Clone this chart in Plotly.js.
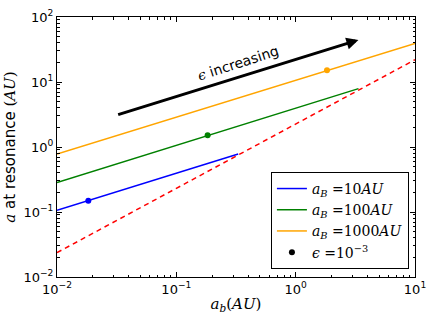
<!DOCTYPE html>
<html>
<head>
<meta charset="utf-8">
<script src="https://cdn.plot.ly/plotly-3.0.1.min.js"></script>
<style>
  html, body { margin: 0; padding: 0; background: #fff; }
  #chart { width: 436px; height: 327px; }
</style>
</head>
<body>
<div id="chart"></div>
<script>
// end points of each resonance line
const blueX = [0.01, 0.33];
const blueY = [0.106, 0.78];
const greenX = [0.01, 3.36];
const greenY = [0.285, 7.9];
const orangeX = [0.01, 10];
const orangeY = [0.78, 39];
const limitX = [0.01, 10];
const limitY = [0.0237, 22];

// epsilon = 1e-3 markers
const dotX = [0.0183, 0.183, 1.83];
const dotY = [0.149, 1.51, 15.1];
const dotColors = ['blue', 'green', 'orange'];

const seriesNames = [
    '<i>a</i><sub><i>B</i></sub> =10<i>AU</i>',
    '<i>a</i><sub><i>B</i></sub> =100<i>AU</i>',
    '<i>a</i><sub><i>B</i></sub> =1000<i>AU</i>',
    '<i>ϵ</i> =10<sup>−3</sup>'
];

const xTickVals = [0.01, 0.1, 1, 10];
const xTickText = ['10<sup>−2</sup>', '10<sup>−1</sup>', '10<sup>0</sup>', '10<sup>1</sup>'];
const yTickVals = [0.01, 0.1, 1, 10, 100];
const yTickText = ['10<sup>−2</sup>', '10<sup>−1</sup>', '10<sup>0</sup>', '10<sup>1</sup>', '10<sup>2</sup>'];

const serif = 'DejaVu Serif, Liberation Serif, serif';
const sans = 'DejaVu Sans, sans-serif';

let traces = [
    { x: blueX, y: blueY, type: 'scatter', mode: 'lines', name: seriesNames[0],
      line: { color: 'blue', width: 1.5 } },
    { x: greenX, y: greenY, type: 'scatter', mode: 'lines', name: seriesNames[1],
      line: { color: 'green', width: 1.5 } },
    { x: orangeX, y: orangeY, type: 'scatter', mode: 'lines', name: seriesNames[2],
      line: { color: 'orange', width: 1.5 } },
    { x: limitX, y: limitY, type: 'scatter', mode: 'lines', showlegend: false,
      line: { color: 'red', width: 1.5, dash: '5px,4px' } },
    { x: dotX, y: dotY, type: 'scatter', mode: 'markers', showlegend: false,
      marker: { color: dotColors, size: 6 } },
    // legend-only entry for the epsilon marker
    { x: [null], y: [null], type: 'scatter', mode: 'markers', name: seriesNames[3],
      marker: { color: 'black', size: 6 } }
];

// arrow + label (annotation coords are log10 on log axes)
const arrowFrom = [-1.5, 0.49];
const arrowTo = [0.526, 1.646];

let axisCommon = {
    type: 'log',
    showgrid: false,
    zeroline: false,
    showline: true,
    linecolor: '#000',
    linewidth: 1,
    mirror: 'ticks',
    ticks: 'inside',
    ticklen: 5,
    tickcolor: '#000',
    tickmode: 'array',
    tickfont: { family: sans, size: 13, color: '#000' },
    minor: { ticks: 'inside', ticklen: 2.5, tickcolor: '#000', dtick: 'D1', showgrid: false }
};

let layout = {
    width: 436,
    height: 327,
    margin: { l: 57, r: 21, t: 17, b: 50 },
    paper_bgcolor: '#fff',
    plot_bgcolor: '#fff',
    showlegend: true,
    xaxis: Object.assign({}, axisCommon, {
        range: [-2, 1],
        tickvals: xTickVals,
        ticktext: xTickText,
        title: { text: '<i>a</i><sub><i>b</i></sub>(<i>AU</i>)', font: { family: serif, size: 15, color: '#000' }, standoff: 2 }
    }),
    yaxis: Object.assign({}, axisCommon, {
        range: [-2, 2],
        tickvals: yTickVals,
        ticktext: yTickText,
        title: {
            text: '<span style="font-family:DejaVu Serif"><i>a</i></span> at resonance <span style="font-family:DejaVu Serif">(<i>AU</i>)</span>',
            font: { family: sans, size: 15, color: '#000' }, standoff: 4
        }
    }),
    legend: {
        x: 0.983, y: 0.031, xanchor: 'right', yanchor: 'bottom',
        bgcolor: '#fff', bordercolor: '#000', borderwidth: 1,
        font: { family: serif, size: 14, color: '#000' },
        tracegroupgap: 0
    },
    annotations: [
        {
            x: arrowTo[0], y: arrowTo[1], ax: arrowFrom[0], ay: arrowFrom[1],
            xref: 'x', yref: 'y', axref: 'x', ayref: 'y',
            text: '', showarrow: true, arrowhead: 2, arrowsize: 0.8, arrowwidth: 3, arrowcolor: '#000'
        },
        {
            x: -0.48, y: 1.29, xref: 'x', yref: 'y',
            text: '<span style="font-family:DejaVu Serif"><i>ϵ</i></span> increasing', showarrow: false, textangle: -18,
            font: { family: sans, size: 14, color: '#000' }
        }
    ]
};

Plotly.newPlot('chart', traces, layout, { staticPlot: true, displayModeBar: false });
</script>
</body>
</html>
